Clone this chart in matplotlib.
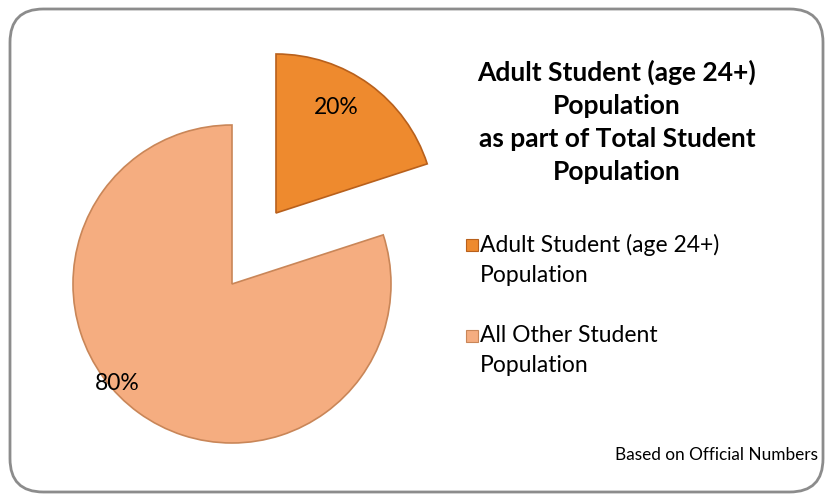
import matplotlib.pyplot as plt
from matplotlib.patches import FancyBboxPatch, Rectangle

# data
labels = ["Adult Student (age 24+)\nPopulation", "All Other Student\nPopulation"]
values = [20, 80]
colors = ["#EE8A2E", "#F5AD80"]
edge_colors = ["#B8601C", "#C98658"]

plt.rcParams['font.family'] = ['Lato', 'DejaVu Sans']

fig = plt.figure(figsize=(8.33, 5), dpi=100)

# rounded chart border
border = FancyBboxPatch((0.012, 0.016), 0.976, 0.966,
                        boxstyle="round,pad=0,rounding_size=0.04",
                        transform=fig.transFigure, facecolor='none',
                        edgecolor='#8C8C8C', linewidth=2, mutation_aspect=833/500)
fig.patches.append(border)

# axes in pixel units (y up)
ax = fig.add_axes([0, 0, 1, 1])
ax.patch.set_alpha(0)
ax.set_xlim(0, 833)
ax.set_ylim(0, 500)
ax.set_aspect('equal')
ax.axis('off')

cx, cy, r = 232, 216, 159
wedges, _ = ax.pie(values, colors=colors, startangle=90, counterclock=False,
                   center=(cx, cy), radius=r, explode=[85, 0],
                   wedgeprops=dict(linewidth=1.2))
for w, ec in zip(wedges, edge_colors):
    w.set_edgecolor(ec)
# shift the exploded slice so it sits like the original
wedges[0].set_center((cx + 44, cy + 71))

ax.set_xlim(0, 833)
ax.set_ylim(0, 500)

total = sum(values)
ax.text(336, 393, f"{values[0] / total:.0%}", fontsize=16.5, ha='center', va='center')
ax.text(117, 116, f"{values[1] / total:.0%}", fontsize=16.5, ha='center', va='center')

# title
ax.text(617, 378,
        "Adult Student (age 24+)\nPopulation\nas part of Total Student\nPopulation",
        fontsize=19, fontweight='bold', ha='center', va='center', linespacing=1.45)

# legend drawn by hand (square markers + two-line labels)
leg_y = [245, 336]
for lab, c, ec, y in zip(labels, colors, edge_colors, leg_y):
    ax.add_patch(Rectangle((466, 500 - y - 6), 12, 12, facecolor=c, edgecolor=ec, lw=0.8))
    ax.text(480, 500 - y + 11, lab, fontsize=16.5, ha='left', va='top',
            linespacing=1.5)

ax.text(818, 45, "Based on Official Numbers", fontsize=12.4, ha='right', va='center')

fig.savefig("out.png", dpi=100)
